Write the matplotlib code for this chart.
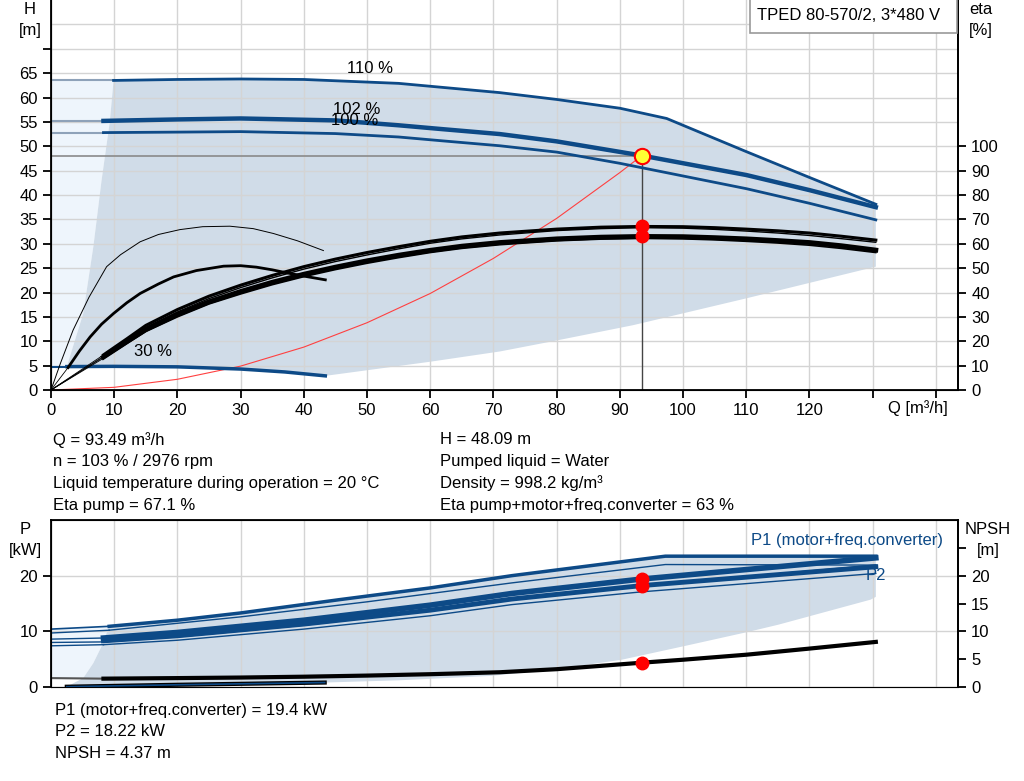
import numpy as np
import matplotlib.pyplot as plt
from matplotlib.patches import Rectangle

plt.rcParams['font.family'] = ['Liberation Sans', 'DejaVu Sans']
plt.rcParams['font.size'] = 12

# ---------------- data ----------------
# H-Q curves (m)
q_110 = [9.9, 20, 30, 40, 55, 71, 80, 90, 97.4, 110, 120, 130.5]
h_110 = [63.5, 63.7, 63.8, 63.7, 62.9, 61.0, 59.6, 57.8, 55.7, 48.9, 43.6, 38.1]
q_102 = [8.3, 20, 30, 45, 55, 62, 71, 80, 93.49, 110, 120, 130.5]
h_102 = [55.2, 55.5, 55.7, 55.3, 54.3, 53.5, 52.5, 51.0, 48.09, 44.1, 41.0, 37.5]
q_100 = [8.3, 20, 30, 45, 55, 62, 71, 80, 90, 110, 120, 130.5]
h_100 = [52.8, 52.9, 53.0, 52.6, 51.9, 51.1, 50.1, 48.8, 46.5, 41.3, 38.3, 34.9]
q_30 = [2.5, 10, 20, 30, 37, 43.4]
h_30 = [4.8, 4.85, 4.75, 4.3, 3.7, 2.9]

# operating area (top)
q_left_edge = [2.5, 5.1, 6.7, 8.0, 9.3, 9.9]
h_left_edge = [4.8, 15.7, 29.4, 43.0, 55.0, 63.5]
q_low_edge = [43.4, 60, 71, 79, 92.1, 110, 130.5]
h_low_edge = [2.9, 5.8, 7.9, 9.9, 13.3, 18.8, 25.3]

# system curve
q_sys = [0, 10, 20, 30, 40, 50, 60, 70, 80, 90, 93.49]
h_sys = [0, 0.55, 2.2, 4.9, 8.8, 13.8, 19.8, 27.0, 35.2, 44.6, 48.09]

# efficiency curves (%)
q_eta = [8.3, 12, 15, 20, 25, 30, 35, 40, 45, 50, 55, 60, 65, 71, 80, 87,
         93.49, 100, 105, 110, 115, 120, 125, 130.5]
eta_pump = [14.4, 21.0, 26.5, 33.0, 38.5, 43.0, 47.0, 50.6, 53.7, 56.4, 58.8,
            61.0, 62.8, 64.4, 66.0, 66.8, 67.1, 67.0, 66.6, 66.0, 65.3, 64.4, 63.1, 61.5]
eta_pump_100 = [13.8, 20.3, 25.7, 32.0, 37.5, 42.0, 46.0, 49.6, 52.7, 55.4, 57.9,
                60.2, 62.0, 63.6, 65.4, 66.2, 66.6, 66.4, 65.9, 65.2, 64.4, 63.4, 62.1, 60.6]
eta_total = [13.5, 19.8, 24.8, 31.0, 36.2, 40.4, 44.2, 47.5, 50.4, 53.0, 55.3,
             57.3, 59.0, 60.5, 62.0, 62.7, 63.0, 62.9, 62.5, 62.0, 61.3, 60.5, 59.2, 57.4]
eta_total_100 = [13.0, 19.1, 24.0, 30.0, 35.3, 39.4, 43.2, 46.5, 49.4, 52.0, 54.3,
                 56.4, 58.1, 59.6, 61.2, 61.9, 62.2, 62.0, 61.6, 61.0, 60.3, 59.4, 58.1, 56.4]
q_eta_min = [0, 1.5, 3.5, 6, 8.8, 11, 14.1, 17, 20.4, 24, 28.3, 32, 35.2, 39, 43.1]
eta_pump_min = [0, 11.0, 24.6, 38.0, 50.6, 55.5, 60.8, 63.8, 65.8, 67.0, 67.2,
                66.2, 64.2, 61.2, 57.2]
q_eta_min2 = [2.7, 4.5, 6.2, 8, 9.9, 12, 14.1, 17, 19.4, 23, 27.3, 30, 32.5,
              35, 37.8, 40.5, 43.4]
eta_total_min = [9.2, 16.0, 21.8, 27.0, 31.4, 35.8, 39.6, 43.5, 46.4, 49.0, 50.8,
                 51.0, 50.4, 49.3, 47.8, 46.5, 45.2]

# power curves (kW)
q_p110 = [9.2, 20, 30, 45.7, 60, 72.9, 97.2, 130.5]
p1_110 = [10.9, 12.0, 13.3, 15.7, 17.8, 20.0, 23.5, 23.5]
q_p2_110 = [9.2, 30, 50, 72.9, 97.2, 130.5]
p2_110 = [10.2, 12.6, 15.3, 18.7, 22.0, 21.9]
q_p = [8.3, 20, 40, 60, 72.9, 93.49, 130.5]
p1 = [8.8, 9.8, 12.0, 14.7, 16.8, 19.4, 23.2]
p2 = [8.3, 9.2, 11.3, 13.8, 15.8, 18.22, 21.6]
p1_100 = [8.1, 9.0, 11.1, 13.7, 15.7, 18.2, 21.9]
p2_100 = [7.6, 8.4, 10.4, 12.8, 14.8, 17.1, 20.4]

# NPSH (m)
q_npsh = [8.3, 20, 30, 40, 50, 60, 71, 80, 87, 93.49, 100, 110, 120, 130.5]
npsh = [1.5, 1.6, 1.7, 1.85, 2.05, 2.3, 2.65, 3.2, 3.8, 4.37, 4.9, 5.8, 6.9, 8.1]
q_npsh_min = [2.5, 20, 43.3]
npsh_min = [0.05, 0.4, 0.8]

# operating area (bottom)
q_pleft = [5.1, 6.7, 8.0, 9.2]
p_pleft = [1.6, 4.3, 7.3, 10.9]
q_plow = [43.3, 55, 69.7, 80, 90.3, 100, 110.3, 115.1, 129.7, 130.5]
p_plow = [0.8, 1.2, 2.0, 3.2, 4.9, 7.3, 9.9, 11.2, 15.7, 16.2]

# duty point
q_op = 93.49
h_op = 48.09
eta_op = [67.1, 63.0]
p_op = [19.4, 18.22]
npsh_op = 4.37

BLUE = '#0d4a87'
FILL = '#d0dce8'
LIGHT = '#eef5fc'
EXT = '#8ea2b9'
GRID = '#d4d4d4'

W, H = 1024, 781
fig = plt.figure(figsize=(W / 100, H / 100), dpi=100)


def fx(px):
    return px / W


def fy(py):
    return 1 - py / H


ax = fig.add_axes([fx(51), fy(390), 907 / W, 390 / H])
ax_eta = ax.twinx()
axb = fig.add_axes([fx(51), fy(687), 907 / W, 167 / H])
axn = axb.twinx()

for a in (ax, axb):
    a.set_xlim(0, 143.5)
    a.set_xticks(np.arange(0, 141, 10))
    a.grid(True, color=GRID, linewidth=1)
    a.tick_params(direction='out', length=6, width=1.3, labelsize=12)

# ---------------- top chart ----------------
ax.set_ylim(0, 80)
ax.set_yticks(np.arange(0, 71, 5))
ax.set_yticklabels([str(v) if v <= 65 else '' for v in range(0, 71, 5)])
ax.set_yticks([75], minor=True)
ax.tick_params(axis='y', which='minor', length=0)
ax.grid(True, which='minor', axis='y', color=GRID, linewidth=1)
ax.set_xticklabels([str(v) if v <= 120 else '' for v in range(0, 141, 10)])
ax.spines['top'].set_visible(False)
ax_eta.spines['top'].set_visible(False)
for s in ('left', 'bottom', 'right'):
    ax.spines[s].set_linewidth(1.3)
ax_eta.spines['right'].set_linewidth(1.3)

# light area to the left
light_q = [0] + q_left_edge + [0]
light_h = [h_left_edge[0]] + h_left_edge + [h_left_edge[-1]]
ax.fill(light_q, light_h, color=LIGHT, lw=0, zorder=0.5)
# operating area
area_q = q_left_edge + q_110 + q_low_edge[::-1] + q_30[::-1]
area_h = h_left_edge + h_110 + h_low_edge[::-1] + h_30[::-1]
ax.fill(area_q, area_h, color=FILL, lw=0, zorder=0.6)

# extension lines from Q=0
for qq, hh in ((q_110, h_110), (q_102, h_102), (q_100, h_100)):
    ax.plot([0, qq[0]], [hh[0], hh[0]], color=EXT, lw=1.5, zorder=2)
ax.plot([0, q_30[0]], [h_30[0], h_30[0]], color=BLUE, lw=1.5, zorder=2)
ax.plot([0, q_op], [h_op, h_op], color='#8a8a8a', lw=1.2, zorder=2)
ax.plot([q_op, q_op], [0, h_op], color='#444444', lw=1, zorder=2)

ax.plot(q_sys, h_sys, color='#ff4040', lw=0.8, zorder=2.5)
ax.plot(q_110, h_110, color=BLUE, lw=2, zorder=3)
ax.plot(q_100, h_100, color=BLUE, lw=2, zorder=3)
ax.plot(q_102, h_102, color=BLUE, lw=3.2, zorder=3)
ax.plot(q_30, h_30, color=BLUE, lw=2.5, zorder=3)
ax.plot(q_op, h_op, 'o', ms=11, mfc='#ffff33', mec='red', mew=1.5, zorder=6)

ax.annotate('110 %', xy=(50.5, 66.0), ha='center', va='center', fontsize=12)
ax.annotate('102 %', xy=(48.3, 57.6), ha='center', va='center', fontsize=12)
ax.annotate('100 %', xy=(48.0, 55.2), ha='center', va='center', fontsize=12)
ax.annotate('30 %', xy=(16.1, 8.0), ha='center', va='center', fontsize=12)

# efficiency axis
ax_eta.set_ylim(0, 160)
ax_eta.set_yticks(np.arange(0, 101, 10))
ax_eta.tick_params(direction='out', length=6, width=1.3, labelsize=12)
for qq, ee, lw in ((q_eta, eta_pump, 2.2), (q_eta, eta_pump_100, 1.0),
                   (q_eta, eta_total, 3.5), (q_eta, eta_total_100, 1.2)):
    ax_eta.plot([0, qq[0]], [0, ee[0]], color='black', lw=0.6)
    ax_eta.plot(qq, ee, color='black', lw=lw)
ax_eta.plot(q_eta_min, eta_pump_min, color='black', lw=0.7)
ax_eta.plot([0, q_eta_min2[0]], [0, eta_total_min[0]], color='black', lw=0.6)
ax_eta.plot(q_eta_min2, eta_total_min, color='black', lw=2)
ax_eta.plot([q_op] * 2, eta_op, 'o', color='red', ms=9, zorder=5)

# ---------------- bottom chart ----------------
axb.set_ylim(0, 30)
axb.set_yticks([0, 10, 20])
axb.tick_params(axis='x', length=0, labelbottom=False)
axb.spines['bottom'].set_color('#888888')
for s in ('left', 'top', 'right'):
    axb.spines[s].set_linewidth(1.3)
axn.set_ylim(0, 30)
axn.set_yticks(np.arange(0, 26, 5))
axn.set_yticklabels([str(v) if v <= 20 else '' for v in range(0, 26, 5)])
axn.tick_params(direction='out', length=6, width=1.3, labelsize=12)
axn.spines['right'].set_linewidth(1.3)

blight_q = [0] + [q_pleft[0]] + q_pleft + [0]
blight_p = [p_pleft[0]] + [p_pleft[0]] + p_pleft + [10.4]
axb.fill(blight_q, blight_p, color=LIGHT, lw=0, zorder=0.5)
barea_q = q_npsh_min + q_plow + q_p110[::-1] + q_pleft[::-1]
barea_p = npsh_min + p_plow + p1_110[::-1] + p_pleft[::-1]
axb.fill(barea_q, barea_p, color=FILL, lw=0, zorder=0.6)

axb.plot([0, q_p110[0]], [10.4, p1_110[0]], color=BLUE, lw=1.2, zorder=2)
axb.plot([0, q_p2_110[0]], [9.7, p2_110[0]], color=BLUE, lw=1, zorder=2)
axb.plot([0, q_p[0]], [8.6, p1[0]], color=BLUE, lw=1, zorder=2)
axb.plot([0, q_p[0]], [8.0, p1_100[0]], color=BLUE, lw=1, zorder=2)
axb.plot([0, q_p[0]], [7.4, p2_100[0]], color=BLUE, lw=1, zorder=2)
axb.plot(q_p110, p1_110, color=BLUE, lw=2.5, zorder=3)
axb.plot(q_p2_110, p2_110, color=BLUE, lw=1, zorder=3)
axb.plot(q_p, p1_100, color=BLUE, lw=1, zorder=3)
axb.plot(q_p, p2_100, color=BLUE, lw=1, zorder=3)
axb.plot(q_p, p1, color=BLUE, lw=4, zorder=3)
axb.plot(q_p, p2, color=BLUE, lw=3.5, zorder=3)
axb.plot([q_op] * 2, p_op, 'o', color='red', ms=9, zorder=5)

axn.plot([0, q_npsh[0]], [1.6, npsh[0]], color='#555555', lw=1.5)
axn.plot(q_npsh, npsh, color='black', lw=3)
axn.plot(q_npsh_min, npsh_min, color='black', lw=3)
axn.plot(q_npsh_min, npsh_min, color=BLUE, lw=1.2)
axn.plot(q_op, npsh_op, 'o', color='red', ms=9, zorder=5)

# ---------------- texts ----------------
fig.text(fx(30), fy(10), 'H', ha='center', va='center')
fig.text(fx(30), fy(30), '[m]', ha='center', va='center')
fig.text(fx(981), fy(10), 'eta', ha='center', va='center')
fig.text(fx(981), fy(30), '[%]', ha='center', va='center')
fig.text(fx(918), fy(408), 'Q [m³/h]', ha='center', va='center')
fig.text(fx(25), fy(529), 'P', ha='center', va='center')
fig.text(fx(25), fy(550), '[kW]', ha='center', va='center')
fig.text(fx(988), fy(530), 'NPSH', ha='center', va='center')
fig.text(fx(988), fy(550), '[m]', ha='center', va='center')

fig.add_artist(Rectangle((fx(750), fy(33)), 207 / W, 34 / H, transform=fig.transFigure,
                         fc='white', ec='#999999', lw=1.2, zorder=10))
fig.text(fx(757), fy(15), 'TPED 80-570/2, 3*480 V', ha='left', va='center', zorder=11)

left_lines = ['Q = 93.49 m³/h', 'n = 103 % / 2976 rpm',
              'Liquid temperature during operation = 20 °C', 'Eta pump = 67.1 %']
right_lines = ['H = 48.09 m', 'Pumped liquid = Water', 'Density = 998.2 kg/m³',
               'Eta pump+motor+freq.converter = 63 %']
for i, (l, r) in enumerate(zip(left_lines, right_lines)):
    y = 440 + i * 21.7
    fig.text(fx(53), fy(y), l, ha='left', va='center')
    fig.text(fx(440), fy(y), r, ha='left', va='center')
bottom_lines = ['P1 (motor+freq.converter) = 19.4 kW', 'P2 = 18.22 kW', 'NPSH = 4.37 m']
for i, t in enumerate(bottom_lines):
    fig.text(fx(55), fy(710 + i * 21.5), t, ha='left', va='center')

fig.text(fx(751), fy(541), 'P1 (motor+freq.converter)', color=BLUE, ha='left', va='center')
fig.text(fx(866), fy(576), 'P2', color=BLUE, ha='left', va='center')

fig.savefig('out.png', dpi=100)
